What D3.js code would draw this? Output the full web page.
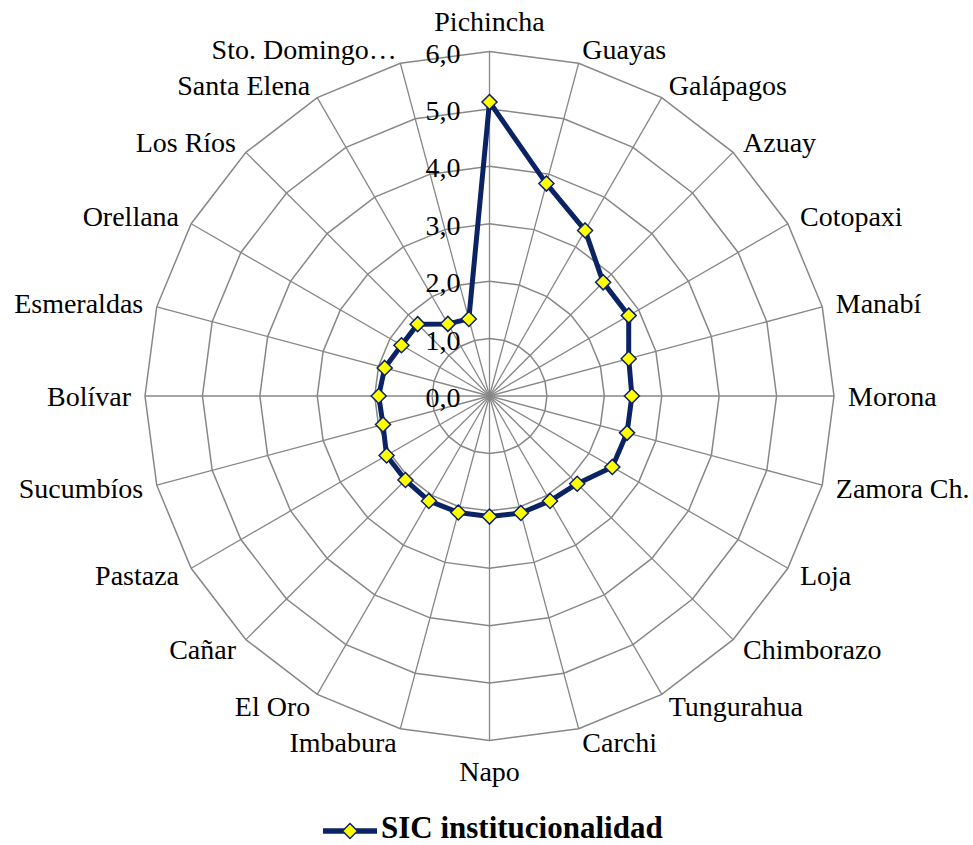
<!DOCTYPE html>
<html>
<head>
<meta charset="utf-8">
<script src="https://cdn.jsdelivr.net/npm/d3@7"></script>
<style>
  html, body { margin: 0; padding: 0; background: #ffffff; }
  svg { display: block; }
</style>
</head>
<body>
<svg id="chart" width="973" height="845"></svg>
<script>
// Provinces, clockwise from the top
const categories = [
  "Pichincha", "Guayas", "Galápagos", "Azuay", "Cotopaxi", "Manabí",
  "Morona", "Zamora Ch.", "Loja", "Chimborazo", "Tungurahua", "Carchi",
  "Napo", "Imbabura", "El Oro", "Cañar", "Pastaza", "Sucumbíos",
  "Bolívar", "Esmeraldas", "Orellana", "Los Ríos", "Santa Elena", "Sto. Domingo…"
];

// SIC institucionalidad score per province
const values = [
  5.12, 3.83, 3.33, 2.80, 2.80, 2.51,
  2.48, 2.48, 2.47, 2.16, 2.11, 2.11,
  2.10, 2.10, 2.11, 2.07, 2.07, 1.92,
  1.93, 1.89, 1.77, 1.77, 1.45, 1.39
];

const tickValues = [0, 1, 2, 3, 4, 5, 6];
const tickLabels = ["0,0", "1,0", "2,0", "3,0", "4,0", "5,0", "6,0"];
const seriesName = "SIC institucionalidad";

const FONT = "Liberation Serif";

const svg = d3.select("#chart").attr("font-family", FONT);
const cx = 489.5, cy = 396;
const R = 344.5;
const n = categories.length;

const r = d3.scaleLinear().domain([0, 6]).range([0, R]);
const angle = d3.scaleLinear().domain([0, n]).range([0, 2 * Math.PI]);

const g = svg.append("g").attr("transform", `translate(${cx},${cy})`);

const gridColor = "#878787";
const navy = "#0b2265";

// concentric grid polygons
const ring = d3.lineRadial()
  .angle((d, i) => angle(i))
  .radius(d => r(d))
  .curve(d3.curveLinearClosed);

g.append("g").selectAll("path")
  .data(tickValues.filter(t => t > 0))
  .join("path")
  .attr("d", t => ring(d3.range(n).map(() => t)))
  .attr("fill", "none")
  .attr("stroke", gridColor)
  .attr("stroke-width", 1.5);

// spokes
const pt = (i, v) => {
  const a = angle(i);
  return [r(v) * Math.sin(a), -r(v) * Math.cos(a)];
};
g.append("g").selectAll("line")
  .data(d3.range(n))
  .join("line")
  .attr("x1", 0).attr("y1", 0)
  .attr("x2", i => pt(i, 6)[0])
  .attr("y2", i => pt(i, 6)[1])
  .attr("stroke", gridColor)
  .attr("stroke-width", 1.3);

// radial axis tick labels
g.append("g").selectAll("text")
  .data(tickValues)
  .join("text")
  .attr("x", -29)
  .attr("y", t => -r(t) + 11)
  .attr("text-anchor", "end")
  .attr("font-family", FONT)
  .attr("font-size", 28)
  .text((t, i) => tickLabels[i]);

// category labels around the outside
const labelPad = 14;
g.append("g").selectAll("text")
  .data(categories)
  .join("text")
  .each(function (c, i) {
    const a = angle(i);
    const s = Math.sin(a), co = Math.cos(a);
    const x = (R + labelPad) * s;
    const y = -(R + labelPad) * co;
    let anchor = "middle", dy = 9.5;
    if (s > 0.05) anchor = "start";
    else if (s < -0.05) anchor = "end";
    else if (co > 0) dy = -7;
    else dy = 26;
    d3.select(this)
      .attr("x", x)
      .attr("y", y + dy)
      .attr("text-anchor", anchor)
      .attr("font-family", FONT)
      .attr("font-size", 28)
      .text(c);
  });

// data series
const seriesLine = d3.lineRadial()
  .angle((d, i) => angle(i))
  .radius(d => r(d))
  .curve(d3.curveLinearClosed);

g.append("path")
  .attr("d", seriesLine(values))
  .attr("fill", "none")
  .attr("stroke", navy)
  .attr("stroke-width", 5)
  .attr("stroke-linejoin", "round");

const diamond = (x, y, h) => `M${x},${y - h}L${x + h},${y}L${x},${y + h}L${x - h},${y}Z`;

g.append("g").selectAll("path")
  .data(values)
  .join("path")
  .attr("d", (v, i) => { const p = pt(i, v); return diamond(p[0], p[1], 7.5); })
  .attr("fill", "#ffff00")
  .attr("stroke", navy)
  .attr("stroke-width", 1.5);

// legend
const legend = svg.append("g").attr("transform", "translate(323,831)");
legend.append("line")
  .attr("x1", 0).attr("x2", 54).attr("y1", 0).attr("y2", 0)
  .attr("stroke", navy).attr("stroke-width", 5.5);
legend.append("path")
  .attr("d", diamond(27, 0, 7.5))
  .attr("fill", "#ffff00").attr("stroke", navy).attr("stroke-width", 1.5);
legend.append("text")
  .attr("x", 58).attr("y", 6.5)
  .attr("font-family", FONT)
  .attr("font-size", 31)
  .attr("font-weight", "bold")
  .text(seriesName);
</script>
</body>
</html>
